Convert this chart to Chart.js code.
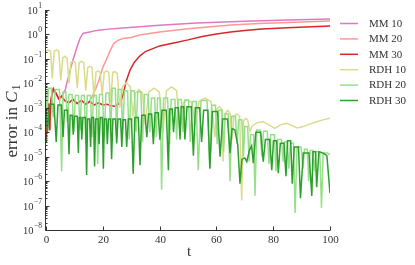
<!DOCTYPE html>
<html>
<head>
<meta charset="utf-8">
<script src="https://cdn.jsdelivr.net/npm/chart.js@4.4.0/dist/chart.umd.min.js"></script>
<style>
  html, body { margin: 0; padding: 0; background: #fff; overflow: hidden; }
  canvas { display: block; }
</style>
</head>
<body>
<canvas id="chart" width="415" height="265"></canvas>
<script>
// --- data (t, error) ---
const seriesNames = ["MM 10", "MM 20", "MM 30", "RDH 10", "RDH 20", "RDH 30"];
const seriesColors = ["#e377c2", "#ff9896", "#d62728", "#dbdb8d", "#98df8a", "#2ca02c"];

const tMm10 = [0, 0.4, 0.9, 1.3, 1.7, 2.6, 3.5, 4.5, 5.5, 6.2, 6.8, 7.3, 8.3, 9.5, 10.9, 12.0, 13.0, 14.5, 15.8, 17.0, 18.5, 22, 27, 33, 40, 53, 70, 85, 100];
const mm10 = [4e-5, 5e-4, 1.5e-3, 1.2e-4, 2e-3, 6e-3, 4e-3, 2.3e-3, 3e-3, 4e-3, 5.5e-3, 1e-2, 2.8e-2, 9e-2, 3e-1, 7e-1, 1.1, 1.2, 1.28, 1.4, 1.5, 1.65, 1.84, 2.05, 2.4, 2.95, 3.5, 3.9, 4.3];

const tMm20 = [0, 0.4, 0.9, 1.3, 1.7, 2.6, 3.5, 4.5, 5.5, 6.5, 8, 9.5, 11, 12.5, 14, 15.2, 16.2, 17.5, 18.7, 20, 21, 22.3, 23.7, 25, 27, 30, 33, 40, 50, 57, 65, 75, 85, 100];
const mm20 = [4e-5, 5e-4, 1.5e-3, 1.2e-4, 2e-3, 6e-3, 4e-3, 2.3e-3, 3e-3, 2e-3, 1.6e-3, 2.2e-3, 1.5e-3, 2e-3, 1.4e-3, 1.8e-3, 2.8e-3, 6e-3, 1.4e-2, 4.5e-2, 8e-2, 1.8e-1, 4e-1, 5.5e-1, 6.8e-1, 7.5e-1, 9.5e-1, 1.26, 1.7, 2.0, 2.45, 2.8, 3.1, 3.55];

const tMm30 = [0, 0.4, 0.9, 1.3, 1.7, 2.6, 3.5, 4.5, 5.5, 6.5, 8, 9.5, 11, 12.5, 14, 15.5, 17, 18.5, 20, 21.5, 23, 24.2, 25.5, 26.5, 27.3, 28.2, 29.6, 31, 33, 35, 40, 45, 50, 55, 60, 65, 70, 76, 85, 100];
const mm30 = [4e-5, 5e-4, 1.5e-3, 1.2e-4, 2e-3, 6e-3, 4e-3, 2.3e-3, 3e-3, 2e-3, 1.6e-3, 2.2e-3, 1.5e-3, 2e-3, 1.4e-3, 1.8e-3, 1.3e-3, 1.6e-3, 1.3e-3, 1.4e-3, 1.2e-3, 1.15e-3, 1.4e-3, 2e-3, 4e-3, 1.2e-2, 3.5e-2, 7e-2, 1.3e-1, 2e-1, 3.4e-1, 4.5e-1, 6e-1, 8.3e-1, 1.05, 1.26, 1.45, 1.66, 1.9, 2.24];

const tRdh10 = [
  0, 0.6, 1.6,
  2.2, 2.9, 3.7, 4.5,
  5.2, 5.9, 6.65, 7.4,
  8.1, 8.8, 9.55, 10.3,
  11.0, 11.7, 12.5, 13.3,
  14.0, 14.7, 15.45, 16.2,
  16.9, 17.6, 18.35, 19.1,
  19.8, 20.5, 21.3, 22.1,
  22.8, 23.5, 24.3, 25.1,
  26.0, 26.9, 28.3, 29.7,
  30.6, 31.5, 32.75, 34.0,
  34.9, 36.2, 38.0, 39.9,
  41.2, 42.4, 44.2, 46.0,
  47.2, 48.3, 49.8, 51.4,
  52.5, 53.9, 56.0, 58.1,
  59.5, 60.1, 61.0, 61.8,
  62.4, 63.0, 64.0, 64.9,
  65.5, 66.2, 67.2, 68.2,
  68.9, 69.5, 70.3, 71.0,
  71.8, 72.6, 74.5, 76.5, 78.5, 80.6, 82.5, 84.8, 86.5, 88.5, 90.5, 93, 95.3, 97.5, 100
];
const rdh10 = [
  2.1e-1, 2.3e-1, 2.1e-1,
  1.6e-2, 2.1e-1, 2.3e-1, 2.1e-1,
  1.3e-2, 1.1e-1, 1.3e-1, 1.1e-1,
  1.0e-2, 7.1e-2, 7.9e-2, 7.1e-2,
  6.3e-3, 7.1e-2, 7.9e-2, 7.1e-2,
  5.0e-3, 4.5e-2, 5.0e-2, 4.5e-2,
  2.5e-3, 2.8e-2, 3.2e-2, 2.8e-2,
  3.2e-3, 2.8e-2, 3.2e-2, 2.8e-2,
  1.6e-3, 2.8e-2, 3.0e-2, 2.5e-2,
  1.0e-3, 7.1e-3, 1.07e-2, 7.1e-3,
  5.0e-4, 4.0e-3, 5.6e-3, 4.0e-3,
  2.0e-4, 4.5e-3, 6.3e-3, 4.5e-3,
  1.0e-4, 5.0e-3, 7.2e-3, 5.0e-3,
  1.0e-4, 1.6e-3, 2.1e-3, 1.6e-3,
  2.0e-4, 1.8e-3, 2.5e-3, 1.8e-3,
  6.3e-5, 8.9e-4, 1.1e-3, 8.9e-4,
  6.3e-6, 5.6e-4, 7.9e-4, 5.6e-4,
  5.0e-5, 4.5e-4, 5.6e-4, 4.5e-4,
  1.6e-7, 2.8e-4, 3.7e-4, 3.2e-4,
  1.1e-4, 1.8e-4, 2.5e-4, 2.7e-4, 2.0e-4, 1.45e-4, 2.0e-4, 2.3e-4, 1.9e-4, 1.5e-4, 1.7e-4, 2.2e-4, 2.7e-4, 3.2e-4, 3.7e-4
];

const tRdh20 = [
  0,
  0.3, 0.85, 1.95,
  2.5, 3.25, 4.75,
  5.5, 6.0, 7.0,
  7.5, 8.1, 9.2,
  9.8, 10.35, 11.45,
  12.0, 12.5, 13.5,
  14.0, 14.55, 15.65,
  16.2, 16.7, 17.7,
  18.2, 18.8, 19.9,
  20.5, 21.1, 22.2,
  22.8, 23.3, 24.4,
  24.9, 25.4, 26.5,
  27.0, 27.6, 28.7,
  29.3, 29.9, 31.1,
  31.7, 32.3, 33.4,
  34.0, 34.65, 35.95,
  36.6, 37.15, 38.25,
  38.8, 39.3, 40.2,
  40.7, 41.4, 42.8,
  43.5, 44.1, 45.4,
  46.0, 46.55, 47.65,
  48.2, 48.85, 50.15,
  50.8, 51.5, 52.9,
  53.6, 54.6, 56.7,
  57.7, 58.35, 59.65,
  60.3, 60.85, 61.95,
  62.5, 63.1, 64.2,
  64.8, 65.4, 66.7,
  67.3, 67.85, 68.95,
  69.5, 70.0, 71.0,
  71.5, 72.0, 73.1,
  73.6, 74.2, 75.4,
  76.0, 76.6, 77.9,
  78.5, 79.1, 80.4,
  81.0, 81.6, 82.9,
  83.5, 84.0, 85.0,
  85.5, 86.05, 87.15,
  87.7, 88.4, 89.8,
  90.5, 91.0, 92.0,
  92.5, 93.0, 94.0,
  94.5, 95.1, 96.4,
  97.0, 97.6, 99.0,
  100
];
const rdh20 = [
  5.0e-3,
  3.2e-4, 6.3e-3, 6.3e-3,
  4.0e-4, 5.6e-3, 5.6e-3,
  2.5e-6, 4.5e-3, 4.5e-3,
  2.5e-4, 3.5e-3, 3.5e-3,
  1.0e-4, 3.2e-3, 3.2e-3,
  1.26e-4, 3.2e-3, 3.2e-3,
  3.2e-5, 3.2e-3, 3.2e-3,
  6.3e-5, 3.2e-3, 3.2e-3,
  5.0e-6, 3.5e-3, 3.5e-3,
  5.0e-5, 4.0e-3, 4.0e-3,
  1.26e-4, 6.3e-3, 6.3e-3,
  1.0e-4, 5.6e-3, 5.6e-3,
  7.9e-5, 5.0e-3, 5.0e-3,
  5.0e-5, 5.0e-3, 5.0e-3,
  1.0e-4, 4.5e-3, 4.5e-3,
  4.0e-5, 3.5e-3, 3.5e-3,
  1.0e-4, 2.5e-3, 2.5e-3,
  6.3e-5, 2.5e-3, 2.5e-3,
  4.4e-7, 2.5e-3, 2.5e-3,
  3.2e-5, 2.2e-3, 2.2e-3,
  5.0e-5, 2.2e-3, 2.2e-3,
  1.0e-4, 2.1e-3, 2.1e-3,
  4.0e-5, 1.8e-3, 1.8e-3,
  2.8e-6, 2.0e-3, 2.0e-3,
  3.5e-6, 1.26e-3, 1.26e-3,
  3.2e-5, 8.1e-4, 8.1e-4,
  1.6e-5, 5.6e-4, 5.6e-4,
  1.0e-6, 4.5e-4, 4.5e-4,
  3.2e-5, 3.2e-4, 3.2e-4,
  1.0e-5, 1.7e-4, 1.7e-4,
  6.3e-6, 7.9e-5, 7.9e-5,
  2.5e-7, 1.23e-4, 1.23e-4,
  1.0e-5, 1.1e-4, 1.1e-4,
  5.0e-6, 7.9e-5, 7.9e-5,
  2.5e-6, 5.0e-5, 5.0e-5,
  6.3e-6, 4.0e-5, 4.0e-5,
  3.2e-6, 3.5e-5, 3.5e-5,
  5.0e-8, 2.5e-5, 2.5e-5,
  3.2e-6, 2.0e-5, 2.0e-5,
  1.0e-6, 1.8e-5, 1.8e-5,
  2.5e-6, 1.6e-5, 1.6e-5,
  7.9e-8, 1.4e-5, 1.4e-5,
  1.2e-5
];

const tRdh30 = [
  0,
  0.5, 1.3, 2.8,
  3.6, 4.2, 5.4,
  6.0, 6.5, 7.6,
  8.1, 8.5, 9.2,
  9.6, 10.0, 11.0,
  11.4, 11.7, 12.3,
  12.6, 13.0, 13.9,
  14.3, 14.65, 15.35,
  15.7, 16.05, 16.75,
  17.1, 17.5, 18.3,
  18.7, 19.1, 19.8,
  20.2, 20.55, 21.25,
  21.6, 22.0, 22.7,
  23.1, 23.55, 24.45,
  24.9, 25.35, 26.25,
  26.7, 27.1, 28.0,
  28.4, 29.0, 30.1,
  30.7, 31.3, 32.5,
  33.1, 33.7, 34.9,
  35.5, 36.1, 37.2,
  37.8, 38.4, 39.5,
  40.1, 40.85, 42.35,
  43.1, 43.55, 44.45,
  44.9, 45.5, 46.6,
  47.2, 47.6, 48.5,
  48.9, 49.65, 51.15,
  51.9, 52.6, 54.1,
  54.8, 55.5, 57.0,
  57.7, 58.6, 60.4,
  61.3, 62.2, 63.9,
  64.8, 65.5, 66.5,
  67.5, 68.3, 69.0, 70.0, 70.7, 71.6, 72.4,
  73.0, 73.9, 75.6,
  76.5, 77.25, 78.75,
  79.5, 80.1, 81.2,
  81.8, 82.5, 83.8,
  84.5, 85.05, 86.15,
  86.7, 87.4, 88.9,
  89.6, 90.6, 92.6,
  93.6, 94.0, 94.9,
  95.3, 96.1, 97.6,
  98.9, 100
];
const rdh30 = [
  1.0e-3,
  1.0e-4, 1.4e-3, 1.4e-3,
  4.0e-5, 1.3e-3, 1.3e-3,
  6.3e-5, 7.9e-4, 7.9e-4,
  1.26e-5, 5.0e-4, 5.0e-4,
  7.9e-5, 4.5e-4, 4.5e-4,
  1.4e-5, 4.0e-4, 4.0e-4,
  5.0e-5, 4.0e-4, 4.0e-4,
  1.8e-6, 3.5e-4, 3.5e-4,
  2.5e-5, 4.0e-4, 4.0e-4,
  4.0e-6, 3.5e-4, 3.5e-4,
  3.2e-5, 4.0e-4, 4.0e-4,
  3.2e-6, 3.5e-4, 3.5e-4,
  3.2e-5, 3.5e-4, 3.5e-4,
  7.9e-6, 3.5e-4, 3.5e-4,
  3.5e-5, 3.5e-4, 3.5e-4,
  2.5e-5, 3.2e-4, 3.2e-4,
  2.5e-5, 3.5e-4, 3.5e-4,
  2.0e-6, 4.0e-4, 4.0e-4,
  4.5e-6, 5.0e-4, 5.0e-4,
  6.3e-5, 5.6e-4, 5.6e-4,
  3.2e-5, 6.3e-4, 6.3e-4,
  5.0e-5, 7.9e-4, 7.9e-4,
  2.8e-6, 8.9e-4, 8.9e-4,
  1.0e-4, 1.0e-3, 1.0e-3,
  5.0e-5, 1.1e-3, 1.1e-3,
  5.0e-5, 1.1e-3, 1.1e-3,
  1.1e-5, 1.0e-3, 1.0e-3,
  4.0e-5, 7.9e-4, 7.9e-4,
  3.2e-6, 7.1e-4, 7.1e-4,
  1.0e-5, 3.5e-4, 3.5e-4,
  1.4e-5, 1.4e-4, 1.26e-4,
  3.2e-5, 7.9e-7, 7.9e-6, 8.9e-6, 6.3e-6, 1.8e-5, 2.8e-5,
  5.4e-6, 1.0e-4, 1.0e-4,
  6.3e-6, 5.0e-5, 5.0e-5,
  2.8e-6, 4.5e-5, 4.5e-5,
  2.1e-6, 3.5e-5, 3.5e-5,
  1.6e-6, 4.5e-5, 4.5e-5,
  7.9e-7, 2.5e-5, 2.5e-5,
  2.0e-7, 1.4e-5, 1.4e-5,
  2.5e-7, 1.6e-5, 1.6e-5,
  5.6e-7, 1.6e-5, 1.4e-5,
  1.1e-5, 3.2e-7
];

// axis ticks
const xTicks = [0, 20, 40, 60, 80, 100];
const yExponents = [-8, -7, -6, -5, -4, -3, -2, -1, 0, 1];

const seriesT = [tMm10, tMm20, tMm30, tRdh10, tRdh20, tRdh30];
const seriesV = [mm10, mm20, mm30, rdh10, rdh20, rdh30];

const SERIF = '"Liberation Serif", "DejaVu Serif", serif';
const INK = '#333';

// matplotlib-ish axes: left/bottom spines, inward ticks, 10^n labels, titles, legend
const mplAxes = {
    id: 'mplAxes',
    afterDatasetsDraw(chart) {
        const ctx = chart.ctx;
        const a = chart.chartArea;
        const x = chart.scales.x, y = chart.scales.y;
        ctx.save();
        ctx.strokeStyle = INK;
        ctx.fillStyle = INK;
        ctx.lineWidth = 1;

        // spines
        const sx = a.left - 0.5, sy = a.bottom + 0.5;
        ctx.beginPath();
        ctx.moveTo(sx, a.top);
        ctx.lineTo(sx, sy);
        ctx.lineTo(a.right, sy);
        ctx.stroke();

        // y ticks and labels
        yExponents.forEach(e => {
            const py = Math.round(y.getPixelForValue(Math.pow(10, e))) + 0.5;
            ctx.beginPath();
            ctx.moveTo(sx, py); ctx.lineTo(sx + 4, py);
            ctx.stroke();
            if (e < yExponents[yExponents.length - 1]) {
                for (let k = 2; k <= 9; k++) {
                    const pm = Math.round(y.getPixelForValue(k * Math.pow(10, e))) + 0.5;
                    ctx.beginPath();
                    ctx.moveTo(sx, pm); ctx.lineTo(sx + 2, pm);
                    ctx.stroke();
                }
            }
            const sup = e < 0 ? '\u2212' + (-e) : String(e);
            ctx.font = '10.5px ' + SERIF;
            const wb = ctx.measureText('10').width;
            ctx.font = '7.5px ' + SERIF;
            const ws = ctx.measureText(sup).width;
            const right = 42;
            ctx.textBaseline = 'middle';
            ctx.textAlign = 'left';
            ctx.font = '10.5px ' + SERIF;
            ctx.fillText('10', right - ws - wb - 0.5, py + 1);
            ctx.font = '7.5px ' + SERIF;
            ctx.fillText(sup, right - ws, py - 4);
        });

        // x ticks and labels
        ctx.font = '11px ' + SERIF;
        ctx.textAlign = 'center';
        ctx.textBaseline = 'middle';
        xTicks.forEach(v => {
            const px = Math.round(x.getPixelForValue(v)) + 0.5;
            ctx.beginPath();
            ctx.moveTo(px, sy); ctx.lineTo(px, sy - 4);
            ctx.stroke();
            ctx.fillText(String(v), px, a.bottom + 10);
        });

        // x title
        ctx.font = '15px ' + SERIF;
        ctx.fillText('t', (a.left + a.right) / 2 + 1, 252);

        // y title: error in C_1
        ctx.save();
        ctx.translate(17, 121);
        ctx.rotate(-Math.PI / 2);
        ctx.textAlign = 'left';
        ctx.textBaseline = 'alphabetic';
        const f1 = '17px ' + SERIF, f2 = 'italic 17px ' + SERIF, f3 = '11.5px ' + SERIF;
        ctx.font = f1; const w1 = ctx.measureText('error in ').width;
        ctx.font = f2; const w2 = ctx.measureText('C').width;
        ctx.font = f3; const w3 = ctx.measureText('1').width;
        let cx = -(w1 + w2 + w3 + 1) / 2;
        ctx.font = f1; ctx.fillText('error in ', cx, 0); cx += w1;
        ctx.font = f2; ctx.fillText('C', cx, 0); cx += w2 + 1;
        ctx.font = f3; ctx.fillText('1', cx, 3);
        ctx.restore();

        // legend
        ctx.font = '11px ' + SERIF;
        ctx.textAlign = 'left';
        ctx.textBaseline = 'middle';
        seriesNames.forEach((name, i) => {
            const ly = 23.5 + i * 15.4;
            ctx.strokeStyle = seriesColors[i];
            ctx.lineWidth = 1.5;
            ctx.beginPath();
            ctx.moveTo(340, ly); ctx.lineTo(358, ly);
            ctx.stroke();
            ctx.fillStyle = INK;
            ctx.fillText(name, 369, ly + 0.5);
        });
        ctx.restore();
    }
};

const datasets = seriesNames.map((name, i) => ({
    label: name,
    data: seriesT[i].map((t, j) => ({ x: t, y: seriesV[i][j] })),
    borderColor: seriesColors[i],
    borderWidth: 1.5,
    pointRadius: 0,
    fill: false,
    tension: 0,
    order: seriesNames.length - i   // later series drawn on top, as in the original
}));

new Chart(document.getElementById('chart'), {
    type: 'line',
    data: { datasets: datasets },
    options: {
        responsive: false,
        devicePixelRatio: 1,
        animation: false,
        events: [],
        layout: { padding: { left: 46, right: 85, top: 10, bottom: 35 } },
        plugins: { legend: { display: false }, tooltip: { enabled: false } },
        scales: {
            x: { type: 'linear', min: 0, max: 100, display: false },
            y: { type: 'logarithmic', min: 1e-8, max: 10, display: false }
        }
    },
    plugins: [mplAxes]
});
</script>
</body>
</html>
